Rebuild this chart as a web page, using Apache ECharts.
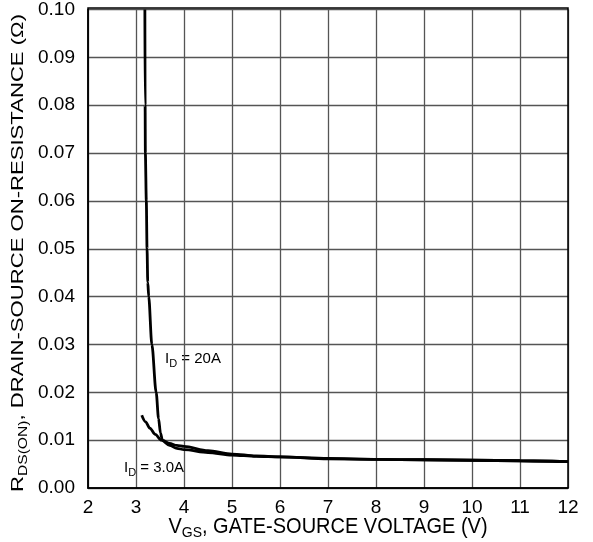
<!DOCTYPE html>
<html>
<head>
<meta charset="utf-8">
<script src="https://cdn.jsdelivr.net/npm/echarts@6/dist/echarts.min.js"></script>
<style>html,body{margin:0;padding:0;background:#fff}#c{width:593px;height:542px}</style>
</head>
<body>
<div id="c"></div>
<script>
const xTicks = [2,3,4,5,6,7,8,9,10,11,12];
const yTicks = [0.00,0.01,0.02,0.03,0.04,0.05,0.06,0.07,0.08,0.09,0.10];
const id20A = [[3.185,0.100],[3.19,0.080],[3.195,0.070],[3.215,0.060],[3.23,0.050],[3.245,0.043],[3.265,0.040],[3.33,0.030],[3.42,0.020],[3.47,0.0145],[3.51,0.0115],[3.55,0.0100],[3.7,0.0093],[3.85,0.0089],[4.0,0.0087],[4.5,0.0078],[5.0,0.0071],[5.5,0.0067],[6.0,0.0065],[7.0,0.0061],[8.0,0.0060],[9.0,0.0059],[10.0,0.0058],[11.0,0.0057],[12.0,0.0055]];
const id3A = [[3.12,0.0152],[3.2,0.0138],[3.29,0.0125],[3.4,0.0112],[3.53,0.0100],[3.7,0.0089],[3.85,0.0083],[4.0,0.0080],[4.5,0.0074],[5.0,0.0069],[5.5,0.0066],[6.0,0.0065],[7.0,0.0062],[8.0,0.0060],[9.0,0.0059],[10.0,0.0058],[11.0,0.0057],[12.0,0.0055]];

const FONT = 'Liberation Sans, Arial, sans-serif';
const chart = echarts.init(document.getElementById('c'));
const grid = {left:88, right:25, top:8, bottom:54};
const gridLine = {show:true, lineStyle:{color:'#555', width:1.3}};
const lblRich = {
  m:{fontSize:15, fontFamily:FONT, fill:'#000', verticalAlign:'top', lineHeight:18},
  s:{fontSize:11, fontFamily:FONT, fill:'#000', verticalAlign:'bottom', lineHeight:18, padding:[7,0,0,0]}
};
const titleRich = {
  m:{fontSize:20, fontFamily:FONT, fill:'#000', verticalAlign:'top', lineHeight:22},
  s:{fontSize:14, fontFamily:FONT, fill:'#000', verticalAlign:'bottom', lineHeight:22, padding:[9,0,0,0]}
};
const yTitleRich = {
  m:{fontSize:17, fontFamily:FONT, fill:'#000', verticalAlign:'top', lineHeight:20},
  s:{fontSize:12, fontFamily:FONT, fill:'#000', verticalAlign:'bottom', lineHeight:20, padding:[8,0,0,0]}
};
chart.setOption({
  animation:false,
  backgroundColor:'#fff',
  grid: grid,
  xAxis:{type:'value', min:2, max:12, interval:1,
    axisLine:{show:true, onZero:false, lineStyle:{color:'#000', width:1.5}},
    axisTick:{show:false},
    splitLine:gridLine,
    axisLabel:{color:'#000', fontSize:19, fontFamily:FONT, margin:10, formatter: v => xTicks.includes(v) ? String(v) : ''}},
  yAxis:{type:'value', min:0, max:0.1, interval:0.01,
    axisLine:{show:true, onZero:false, lineStyle:{color:'#000', width:1.5}},
    axisTick:{show:false},
    splitLine:gridLine,
    axisLabel:{color:'#000', fontSize:19, fontFamily:FONT, margin:13, formatter: v => v.toFixed(2)}},
  series:[
    {type:'line', data:id20A, showSymbol:false, smooth:0.3, smoothMonotone:'x', lineStyle:{color:'#000', width:2.8}},
    {type:'line', data:id3A, showSymbol:false, smooth:0.3, smoothMonotone:'x', lineStyle:{color:'#000', width:2.8}}
  ],
  graphic:[
    {type:'rect', shape:{x:88, y:8, width:480, height:480}, style:{fill:'none', stroke:'#000', lineWidth:1.5}, silent:true, z:100},
    {type:'text', left:165, top:351, style:{text:'{m|I}{s|D}{m| = 20A}', rich:lblRich}},
    {type:'text', left:124, top:460, style:{text:'{m|I}{s|D}{m| = 3.0A}', rich:lblRich}},
    {type:'text', x:328, y:528, scaleY:1.1, style:{text:'{m|V}{s|GS}{m|, GATE-SOURCE VOLTAGE (V)}', align:'center', verticalAlign:'middle', rich:titleRich}},
    {type:'text', x:20, y:253, rotation:Math.PI/2, scaleX:1.3, style:{text:'{m|R}{s|DS(ON)}{m|, DRAIN-SOURCE ON-RESISTANCE (Ω)}', align:'center', verticalAlign:'middle', rich:yTitleRich}}
  ]
});
</script>
</body>
</html>
